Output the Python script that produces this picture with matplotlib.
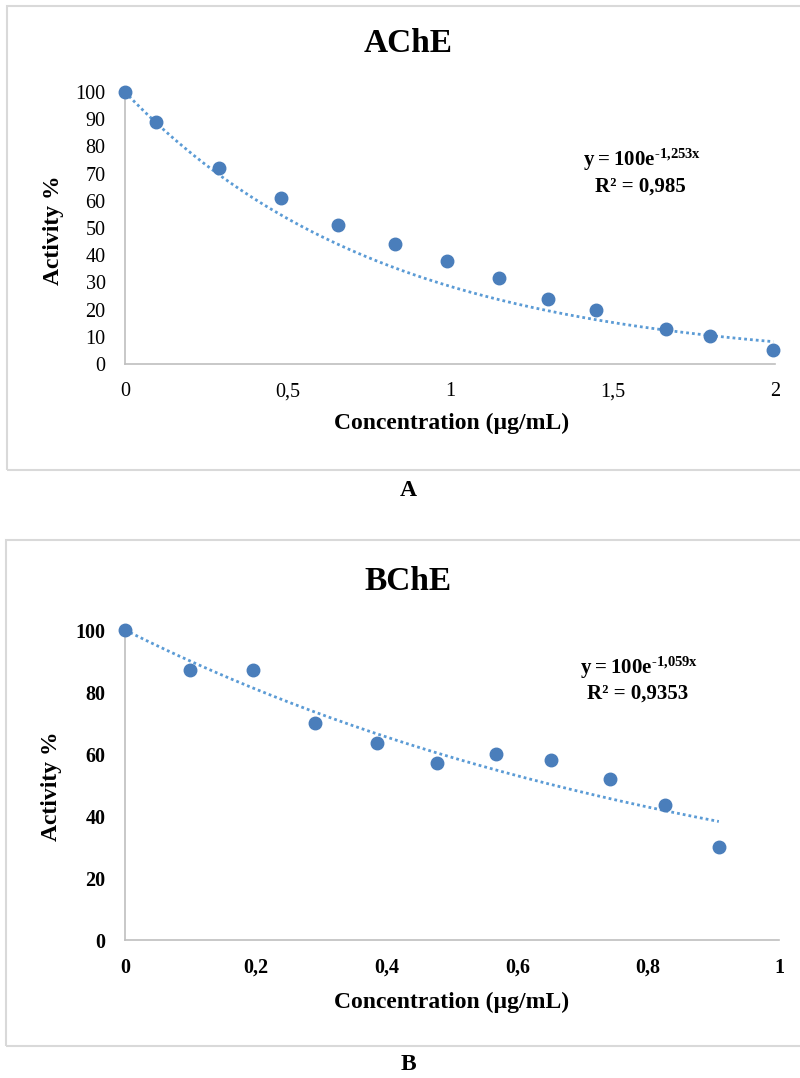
import numpy as np
import matplotlib
matplotlib.use('Agg')
import matplotlib.pyplot as plt
from matplotlib.patches import Rectangle

plt.rcParams['font.family'] = ['Liberation Serif', 'DejaVu Serif']
plt.rcParams['mathtext.fontset'] = 'custom'
plt.rcParams['mathtext.rm'] = 'Liberation Serif'
plt.rcParams['mathtext.bf'] = 'Liberation Serif:bold'

# AChE data
ache_conc = [0, 0.095, 0.29, 0.48, 0.655, 0.83, 0.99, 1.15, 1.30, 1.45, 1.665, 1.80, 1.995]
ache_act = [100, 89, 72, 61, 51, 44, 38, 31.5, 24, 20, 13, 10.2, 5]
ache_k = 1.253

# BChE data
bche_conc = [0, 0.1, 0.196, 0.291, 0.386, 0.477, 0.567, 0.652, 0.741, 0.826, 0.908]
bche_act = [100, 87, 87, 70, 63.5, 57, 60, 58, 52, 43.5, 30]
bche_k = 1.059

ache_xticks = [0, 0.5, 1, 1.5, 2]
ache_xlabels = ['0', '0,5', '1', '1,5', '2']
ache_yticks = list(range(0, 101, 10))
bche_xticks = [0, 0.2, 0.4, 0.6, 0.8, 1]
bche_xlabels = ['0', '0,2', '0,4', '0,6', '0,8', '1']
bche_yticks = list(range(0, 101, 20))

W, H = 800, 1078
fig = plt.figure(figsize=(W / 100, H / 100), dpi=100)


def fx(x):
    return x / W


def fy(y):
    return 1 - y / H


dot_color = '#4A7EBB'
line_color = '#5B9BD5'
spine_color = '#BFBFBF'

# panel frames
for top, bottom, left in [(6, 470, 7), (540, 1046, 6)]:
    fig.patches.append(Rectangle((fx(left), fy(bottom)), fx(W + 10 - left), (bottom - top) / H,
                                 transform=fig.transFigure, fill=False,
                                 edgecolor='#D9D9D9', linewidth=1.5))


def panel(rect, conc, act, k, xticks, xlabels, yticks, xmax, tick_bold):
    ax = fig.add_axes(rect)
    xs = np.linspace(0, max(conc), 200)
    ax.plot(xs, 100 * np.exp(-k * xs), color=line_color, linewidth=2,
            linestyle=(0, (1, 1.1)), zorder=2, clip_on=False)
    ax.plot(conc, act, 'o', color=dot_color, markersize=9, zorder=3, clip_on=False)
    ax.set_xlim(0, xmax)
    ax.set_ylim(0, 100)
    ax.set_xticks(xticks)
    ax.set_xticklabels(xlabels)
    ax.set_yticks(yticks)
    for s in ['top', 'right']:
        ax.spines[s].set_visible(False)
    for s in ['left', 'bottom']:
        ax.spines[s].set_color(spine_color)
        ax.spines[s].set_linewidth(1.2)
    ax.tick_params(length=0, labelsize=14.5, pad=13)
    ax.tick_params(axis='y', pad=14)
    weight = 'bold' if tick_bold else 'normal'
    for lab in ax.get_xticklabels() + ax.get_yticklabels():
        lab.set_fontweight(weight)
    return ax


panel([fx(125), fy(364), fx(650), 272 / H], ache_conc, ache_act, ache_k,
      ache_xticks, ache_xlabels, ache_yticks, 2, False)
panel([fx(125), fy(940), fx(654), 310 / H], bche_conc, bche_act, bche_k,
      bche_xticks, bche_xlabels, bche_yticks, 1, True)

# titles and labels
fig.text(fx(408), fy(44), 'AChE', ha='center', va='center', fontsize=24, fontweight='bold')
fig.text(fx(408), fy(581), 'BChE', ha='center', va='center', fontsize=24, fontweight='bold')
for yc in [423, 1002]:
    fig.text(fx(452), fy(yc), 'Concentration (µg/mL)', ha='center', va='center',
             fontsize=17, fontweight='bold')
fig.text(fx(54), fy(230), 'Activity %', ha='center', va='center', rotation=90,
         fontsize=17, fontweight='bold')
fig.text(fx(52), fy(786), 'Activity %', ha='center', va='center', rotation=90,
         fontsize=17, fontweight='bold')

# trendline equations
fig.text(fx(642), fy(160), '$\\mathbf{y = 100e^{\u20101{,}253x}}$', ha='center', va='center', fontsize=15)
fig.text(fx(640), fy(187), 'R² = 0,985', ha='center', va='center', fontsize=15, fontweight='bold')
fig.text(fx(639), fy(668), '$\\mathbf{y = 100e^{\u20101{,}059x}}$', ha='center', va='center', fontsize=15)
fig.text(fx(638), fy(694), 'R² = 0,9353', ha='center', va='center', fontsize=15, fontweight='bold')

fig.text(fx(408), fy(491), 'A', ha='center', va='center', fontsize=17, fontweight='bold')
fig.text(fx(408), fy(1065), 'B', ha='center', va='center', fontsize=17, fontweight='bold')

fig.savefig('out.png', dpi=100)
